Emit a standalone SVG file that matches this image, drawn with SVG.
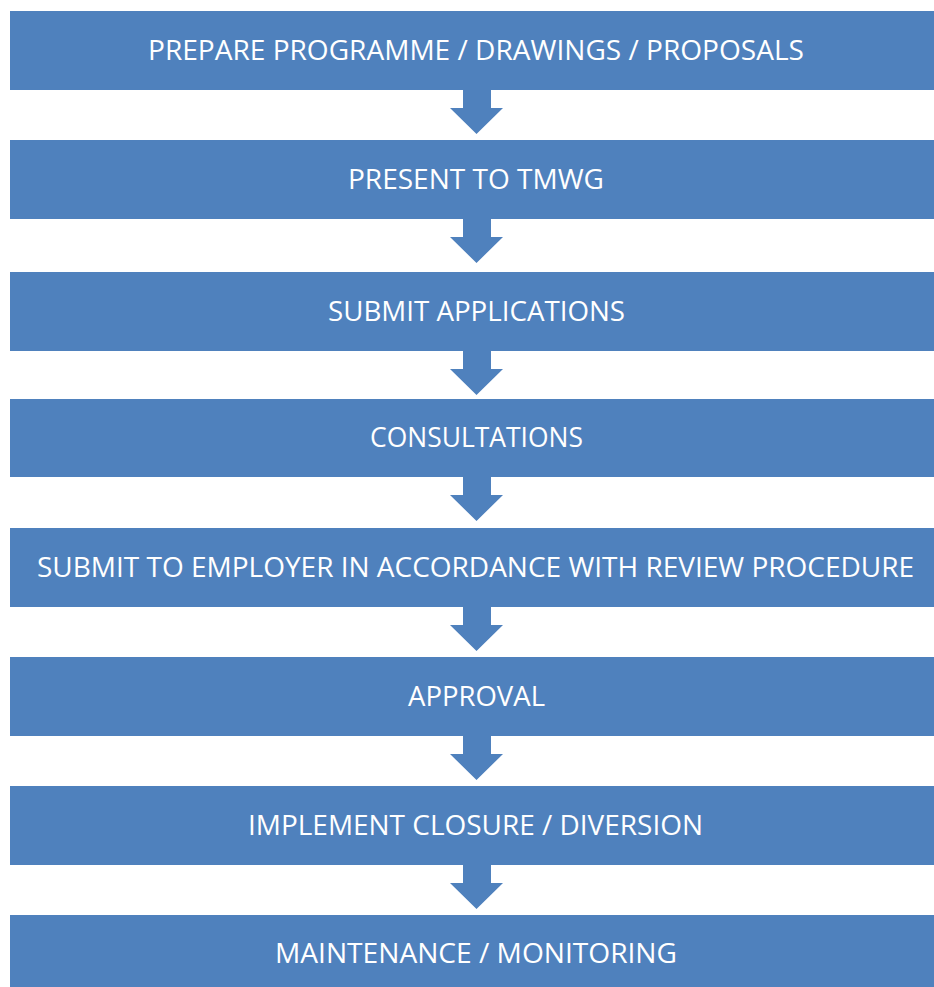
<svg xmlns="http://www.w3.org/2000/svg" width="934" height="987" viewBox="0 0 934 987">
  <defs>
    <style>
      .box { fill: #4F81BD; }
      .arrow { fill: #4F81BD; }
      .label { font-family: "Open Sans", "Liberation Sans", sans-serif; font-size: 27px; fill: #FFFFFF; text-anchor: middle; }
    </style>
    <!-- block arrow: shaft then head, origin at the bottom edge of the upper box -->
    <path id="down" d="M463 0 H491 V18 H503 L476.5 44 L450 18 H463 Z"/>
  </defs>
  <rect width="934" height="987" fill="#FFFFFF"/>

  <g id="connectors">
    <use href="#down" class="arrow" transform="translate(0,90)"/>
    <use href="#down" class="arrow" transform="translate(0,219)"/>
    <use href="#down" class="arrow" transform="translate(0,351)"/>
    <use href="#down" class="arrow" transform="translate(0,477)"/>
    <use href="#down" class="arrow" transform="translate(0,607)"/>
    <use href="#down" class="arrow" transform="translate(0,736)"/>
    <use href="#down" class="arrow" transform="translate(0,865)"/>
  </g>

  <g id="step1">
    <rect class="box" x="10" y="11" width="924" height="79"/>
    <text class="label" x="476" y="60" textLength="656" lengthAdjust="spacingAndGlyphs">PREPARE PROGRAMME / DRAWINGS / PROPOSALS</text>
  </g>
  <g id="step2">
    <rect class="box" x="10" y="140" width="924" height="79"/>
    <text class="label" x="476" y="189" textLength="256" lengthAdjust="spacingAndGlyphs">PRESENT TO TMWG</text>
  </g>
  <g id="step3">
    <rect class="box" x="10" y="272" width="924" height="79"/>
    <text class="label" x="476.5" y="321" textLength="297" lengthAdjust="spacingAndGlyphs">SUBMIT APPLICATIONS</text>
  </g>
  <g id="step4">
    <rect class="box" x="10" y="399" width="924" height="78"/>
    <text class="label" x="476.5" y="447" textLength="213" lengthAdjust="spacingAndGlyphs">CONSULTATIONS</text>
  </g>
  <g id="step5">
    <rect class="box" x="10" y="528" width="924" height="79"/>
    <text class="label" x="475.5" y="577" textLength="877" lengthAdjust="spacingAndGlyphs">SUBMIT TO EMPLOYER IN ACCORDANCE WITH REVIEW PROCEDURE</text>
  </g>
  <g id="step6">
    <rect class="box" x="10" y="657" width="924" height="79"/>
    <text class="label" x="476.5" y="706" textLength="137" lengthAdjust="spacingAndGlyphs">APPROVAL</text>
  </g>
  <g id="step7">
    <rect class="box" x="10" y="786" width="924" height="79"/>
    <text class="label" x="475.5" y="835" textLength="455" lengthAdjust="spacingAndGlyphs">IMPLEMENT CLOSURE / DIVERSION</text>
  </g>
  <g id="step8">
    <rect class="box" x="10" y="915" width="924" height="72"/>
    <text class="label" x="476" y="963" textLength="402" lengthAdjust="spacingAndGlyphs">MAINTENANCE / MONITORING</text>
  </g>
</svg>
